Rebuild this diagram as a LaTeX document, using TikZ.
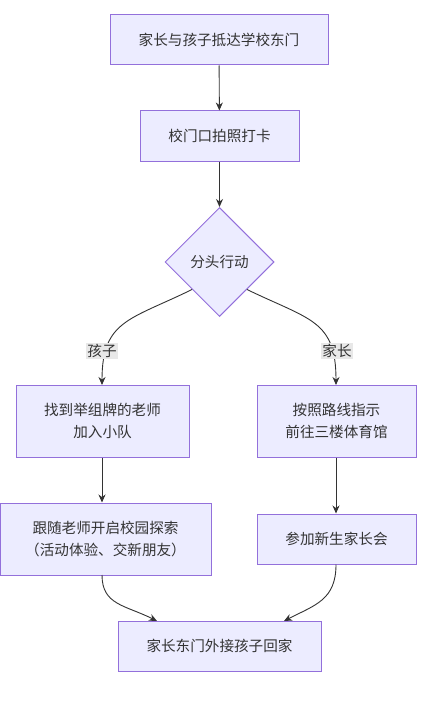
\documentclass[tikz,border=0pt]{standalone}
\usepackage{fontspec}
\setmainfont{Noto Sans CJK SC}
\usetikzlibrary{shapes.geometric,arrows.meta}
\definecolor{boxfill}{HTML}{ECECFF}
\definecolor{boxline}{HTML}{9370DB}
\definecolor{txt}{HTML}{333333}
\definecolor{lblbg}{HTML}{E8E8E8}
\begin{document}
\begin{tikzpicture}[x=1pt,y=-1pt,
  every node/.style={font=\fontsize{14.6}{22}\selectfont, text=txt},
  box/.style={draw=boxline, fill=boxfill, line width=1pt, inner sep=0pt, align=center},
  dia/.style={diamond, draw=boxline, fill=boxfill, line width=1pt, inner sep=0pt, minimum width=109pt, minimum height=109pt, aspect=1},
  lbl/.style={fill=lblbg, inner sep=1pt},
  edge/.style={draw=txt, line width=0.9pt, -{Stealth[length=8pt,width=7pt]}}]
\useasboundingbox (0,0) rectangle (428,706);
\node[box, minimum width=218pt, minimum height=50pt] (A) at (219,40) {家长与孩子抵达学校东门};
\node[box, minimum width=159pt, minimum height=50pt] (B) at (219.5,136) {校门口拍照打卡};
\node[dia] (D) at (219.5,262) {分头行动};
\node[box, minimum width=173pt, minimum height=72pt] (C) at (102.5,421) {找到举组牌的老师\\加入小队};
\node[box, minimum width=159pt, minimum height=72pt] (R) at (336.5,421) {按照路线指示\\前往三楼体育馆};
\node[box, minimum width=211pt, minimum height=72pt] (E) at (105.5,539) {跟随老师开启校园探索\\（活动体验、交新朋友）};
\node[box, minimum width=159pt, minimum height=50pt] (F) at (336.5,539) {参加新生家长会};
\node[box, minimum width=203pt, minimum height=50pt] (G) at (219.5,646) {家长东门外接孩子回家};
\coordinate (Cin) at (102,385);
\coordinate (Rin) at (336,385);
\coordinate (Eout) at (102,575);
\coordinate (Gl) at (157,621);
\coordinate (Gr) at (284,621);
\path[edge] (A) -- (B);
\path[edge] (B) -- (D);
\path[edge] (D.south west) .. controls (130,320) and (102,320) .. (Cin);
\path[edge] (D.south east) .. controls (310,320) and (336,320) .. (Rin);
\node[lbl] (L1) at (102,351) {孩子};
\node[lbl] (L2) at (337,351) {家长};
\path[edge] (Cin |- C.south) -- (Cin |- E.north);
\path[edge] (Rin |- R.south) -- (Rin |- F.north);
\path[edge] (Eout) .. controls (102,605) and (125,605) .. (Gl);
\path[edge] (Rin |- F.south) .. controls (336,600) and (315,605) .. (Gr);
\end{tikzpicture}
\end{document}
